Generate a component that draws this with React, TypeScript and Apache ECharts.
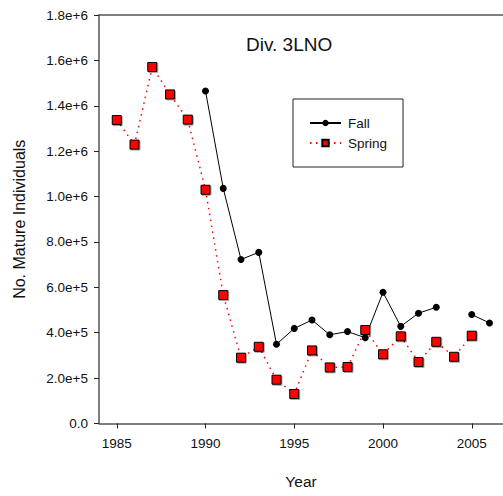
import React, { useEffect, useRef } from "react";
import * as echarts from "echarts";

const years = [1985, 1986, 1987, 1988, 1989, 1990, 1991, 1992, 1993, 1994, 1995, 1996, 1997, 1998, 1999, 2000, 2001, 2002, 2003, 2004, 2005, 2006];
const fall: (number | null)[] = [null, null, null, null, null, 1465000, 1036000, 723000, 754000, 349000, 419000, 456000, 391000, 405000, 378000, 578000, 428000, 486000, 512000, null, 480000, 443000];
const spring: (number | null)[] = [1337000, 1229000, 1571000, 1450000, 1339000, 1030000, 566000, 290000, 338000, 193000, 130000, 322000, 247000, 249000, 412000, 305000, 384000, 271000, 360000, 294000, 387000, null];
const xTicks = [1985, 1990, 1995, 2000, 2005];

const FONT = "Liberation Sans, Arial, sans-serif";

export default function App() {
  const ref = useRef<HTMLDivElement>(null);
  useEffect(() => {
    if (!ref.current) return;
    const chart = echarts.init(ref.current, null, { renderer: "svg" });
    const axisColor = "#555";
    chart.setOption({
      animation: false,
      textStyle: { fontFamily: FONT },
      title: {
        text: "Div. 3LNO",
        left: 246,
        top: 35,
        padding: 0,
        textStyle: { fontSize: 19, fontWeight: "normal", color: "#111", fontFamily: FONT },
      },
      legend: {
        left: 293,
        top: 99,
        orient: "vertical",
        borderColor: "#222",
        borderWidth: 1,
        padding: [17, 16, 17, 16],
        itemWidth: 31,
        itemHeight: 8,
        itemGap: 6,
        textStyle: { fontSize: 13.5, color: "#111", fontFamily: FONT, padding: [0, 0, 0, 2] },
        data: ["Fall", "Spring"],
      },
      grid: { left: 99, right: 0, top: 15, bottom: 72.5 },
      xAxis: [
        {
          type: "value",
          min: 1984,
          max: 2006.76,
          name: "Year",
          nameLocation: "middle",
          nameGap: 50,
          nameTextStyle: { fontSize: 15.5, color: "#111", fontFamily: FONT },
          axisLine: { show: true, lineStyle: { color: axisColor, width: 1.5 } },
          axisTick: { show: true, customValues: xTicks, length: 5, lineStyle: { color: "#222", width: 1 } },
          axisLabel: {
            customValues: xTicks,
            margin: 13,
            fontSize: 13.5,
            color: "#111",
            fontFamily: FONT,
            formatter: (v: number) => String(v),
          },
          splitLine: { show: false },
        },
        {
          type: "value",
          position: "top",
          min: 1984,
          max: 2006.76,
          axisLine: { show: true, lineStyle: { color: axisColor, width: 1.5 } },
          axisTick: { show: false },
          axisLabel: { show: false },
          splitLine: { show: false },
        },
      ],
      yAxis: {
        type: "value",
        min: 0,
        max: 1800000,
        interval: 200000,
        name: "No. Mature Individuals",
        nameLocation: "middle",
        nameGap: 72,
        nameTextStyle: { fontSize: 16, color: "#111", fontFamily: FONT },
        axisLine: { show: true, lineStyle: { color: axisColor, width: 1.5 } },
        axisTick: { show: true, length: 5, lineStyle: { color: "#222", width: 1 } },
        axisLabel: {
          margin: 11,
          fontSize: 13.5,
          color: "#111",
          fontFamily: FONT,
          formatter: (v: number) => (v === 0 ? "0.0" : v.toExponential(1)),
        },
        splitLine: { show: false },
      },
      series: [
        {
          name: "Fall",
          type: "line",
          data: years.map((y, i) => [y, fall[i]]),
          connectNulls: false,
          symbol: "circle",
          symbolSize: 7,
          itemStyle: { color: "#000" },
          lineStyle: { color: "#000", width: 1 },
        },
        {
          name: "Spring",
          type: "line",
          data: years.map((y, i) => [y, spring[i]]),
          connectNulls: false,
          symbol: "rect",
          symbolSize: 9,
          itemStyle: {
            color: "#f00",
            borderColor: "#000",
            borderWidth: 1,
            shadowColor: "rgba(0,0,0,0.35)",
            shadowOffsetX: 1,
            shadowOffsetY: 1,
            shadowBlur: 0,
          },
          lineStyle: { color: "#f00", width: 1.5, type: [1.5, 4.5] },
        },
      ],
    });
    return () => chart.dispose();
  }, []);
  return <div ref={ref} style={{ position: "absolute", left: 0, top: 0, width: 503, height: 496 }} />;
}
